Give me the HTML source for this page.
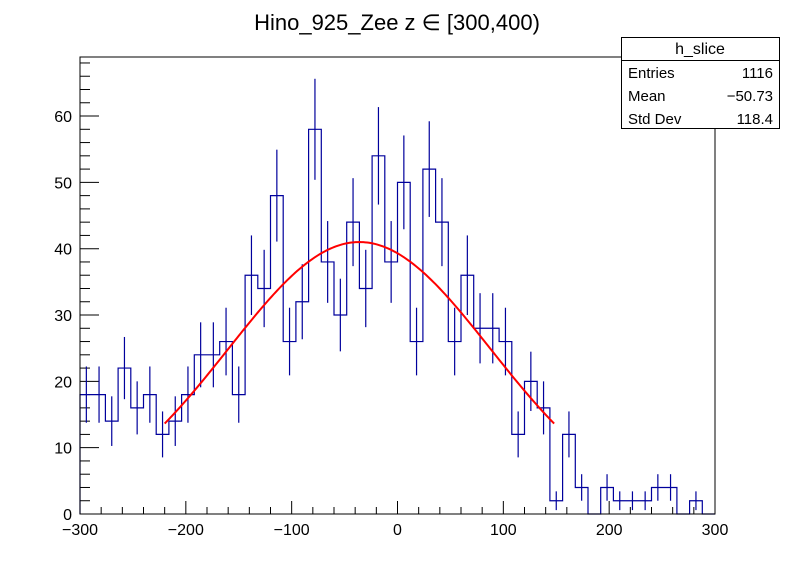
<!DOCTYPE html>
<html><head><meta charset="utf-8"><style>
body{margin:0;background:#fff}
svg{display:block;font-family:"Liberation Sans",sans-serif}
</style></head><body>
<svg id="c" width="796" height="572">
<rect x="0" y="0" width="796" height="572" fill="#fff"/>
<text x="397" y="30" font-size="22" text-anchor="middle">Hino_925_Zee z  ∈ [300,400)</text>
<g id="axes"></g>
<g id="hist"></g>
<g id="fit"></g>
<rect x="80" y="57" width="635" height="457" fill="none" stroke="#000" stroke-width="1"/>
<g>
<rect x="621.5" y="37.5" width="158" height="91" fill="#fff" stroke="#000"/>
<line x1="621.5" y1="60.5" x2="779.5" y2="60.5" stroke="#000"/>
<text x="700" y="54" font-size="16" text-anchor="middle">h_slice</text>
<text x="628" y="78" font-size="15">Entries</text>
<text x="773" y="78" font-size="15" text-anchor="end">1116</text>
<text x="628" y="101" font-size="15">Mean</text>
<text x="773" y="101" font-size="15" text-anchor="end">−50.73</text>
<text x="628" y="124" font-size="15">Std Dev</text>
<text x="773" y="124" font-size="15" text-anchor="end">118.4</text>
</g>
</svg>
<script>
const binLow = -300, binWidth = 12;
const counts = [18,18,14,22,16,18,12,14,18,24,24,26,18,36,34,48,26,32,58,38,30,44,34,54,38,50,26,52,44,26,36,28,28,26,12,20,16,2,12,4,0,4,2,2,2,4,4,0,2,0];
const xTicks = [-300,-200,-100,0,100,200,300];
const yTicks = [0,10,20,30,40,50,60];
const fitParams = [41,-36,124];
const fitRange = [-220,148];

const NS="http://www.w3.org/2000/svg";
const X0=80,X1=715,Y0=514,Y1=57,XMIN=-300,XMAX=300,YMAX=68.9;
const sx=v=>X0+(v-XMIN)/(XMAX-XMIN)*(X1-X0);
const sy=v=>Y0-v/YMAX*(Y0-Y1);
function mk(tag,attrs,parent){const e=document.createElementNS(NS,tag);for(const k in attrs)e.setAttribute(k,attrs[k]);parent.appendChild(e);return e;}
const axes=document.getElementById('axes');
// x ticks
for(let v=XMIN;v<=XMAX;v+=20){
  const major=(v%100===0);
  const t=mk('line',{x1:sx(v),x2:sx(v),y1:Y0,y2:Y0-(major?13:7),stroke:'#000'},axes);
  
  
}
xTicks.forEach(v=>{
  const t=mk('text',{x:sx(v),y:Y0+21,'font-size':16,'text-anchor':'middle'},axes);
  t.textContent=(v<0?'−':'')+Math.abs(v);
  
  
});
for(let v=0;v<=YMAX;v+=2){
  const major=(v%10===0);
  const t=mk('line',{x1:X0,x2:X0+(major?19:10),y1:sy(v),y2:sy(v),stroke:'#000'},axes);
  
  
}
yTicks.forEach(v=>{
  const t=mk('text',{x:X0-8,y:sy(v)+6,'font-size':16,'text-anchor':'end'},axes);
  t.textContent=v;
  
  
});
// histogram
const hist=document.getElementById('hist');
let d='M'+sx(binLow)+','+sy(0);
counts.forEach((c,i)=>{
  const a=sx(binLow+i*binWidth),b=sx(binLow+(i+1)*binWidth);
  d+=' L'+a+','+sy(c)+' L'+b+','+sy(c);
});
d+=' L'+sx(binLow+counts.length*binWidth)+','+sy(0);
const hp=mk('path',{d:d,fill:'none',stroke:'#00009c','stroke-width':1.2},hist);


counts.forEach((c,i)=>{
  if(c<=0)return;
  const xc=sx(binLow+(i+0.5)*binWidth),e=Math.sqrt(c);
  const l=mk('line',{x1:xc,x2:xc,y1:sy(Math.max(0,c-e)),y2:sy(c+e),stroke:'#00009c','stroke-width':1.2},hist);
  
  
});
// fit
const fit=document.getElementById('fit');
let fd='';
for(let k=0;k<=200;k++){
  const x=fitRange[0]+(fitRange[1]-fitRange[0])*k/200;
  const y=fitParams[0]*Math.exp(-0.5*Math.pow((x-fitParams[1])/fitParams[2],2));
  fd+=(k?' L':'M')+sx(x).toFixed(2)+','+sy(y).toFixed(2);
}
const fp=mk('path',{d:fd,fill:'none',stroke:'#ff0000','stroke-width':2},fit);


</script>
</body></html>
